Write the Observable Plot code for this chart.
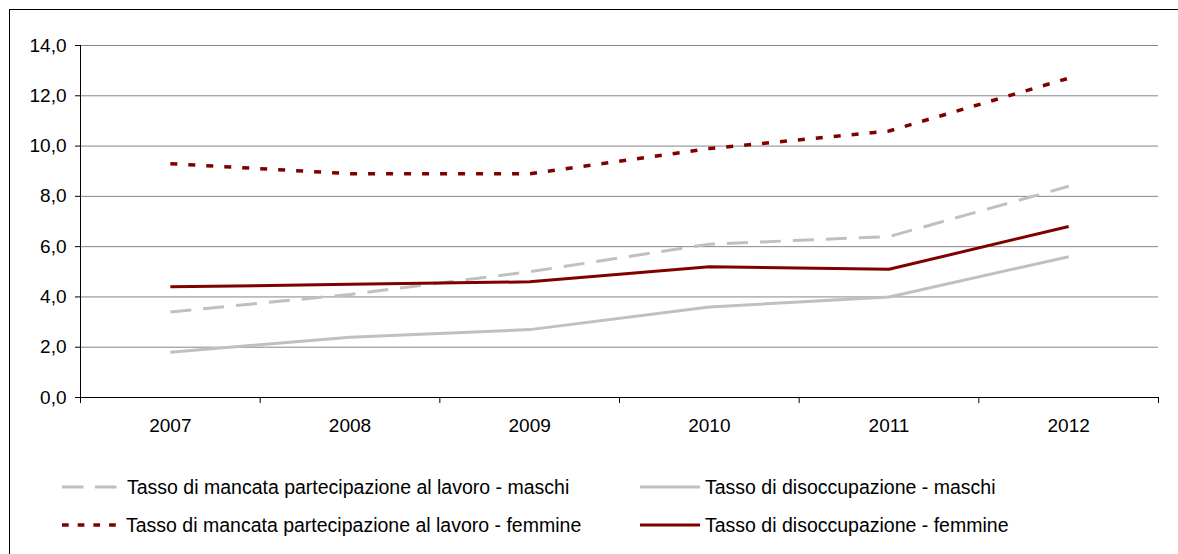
<!DOCTYPE html>
<html><head><meta charset="utf-8">
<script src="https://cdn.jsdelivr.net/npm/d3@7"></script>
<script src="https://cdn.jsdelivr.net/npm/@observablehq/plot@0.6"></script>
<style>html,body{margin:0;padding:0;background:#fff;overflow:hidden}</style>
</head><body><div id="chart"></div>
<script>
const years = [2007, 2008, 2009, 2010, 2011, 2012];
const mancataMaschi  = [3.4, 4.1, 5.0, 6.1, 6.4, 8.4];
const disoccMaschi   = [1.8, 2.4, 2.7, 3.6, 4.0, 5.6];
const mancataFemmine = [9.3, 8.9, 8.9, 9.9, 10.6, 12.7];
const disoccFemmine  = [4.4, 4.5, 4.6, 5.2, 5.1, 6.8];
const seriesNames = [
  "Tasso di mancata partecipazione al lavoro - maschi",
  "Tasso di disoccupazione - maschi",
  "Tasso di mancata partecipazione al lavoro - femmine",
  "Tasso di disoccupazione - femmine"
];
const yTicks = [0, 2, 4, 6, 8, 10, 12, 14];

const seriesValues = [mancataMaschi, disoccMaschi, mancataFemmine, disoccFemmine];
const seriesStyle = [
  {stroke: "#c0c0c0", width: 3, dash: "21,12", legendDash: "21.5,11.5"},
  {stroke: "#c0c0c0", width: 3, dash: null, legendDash: null},
  {stroke: "#800000", width: 3.5, dash: "7,11", legendDash: "6.7,9"},
  {stroke: "#800000", width: 3, dash: null, legendDash: null}
];

const rows = [];
seriesNames.forEach((name, s) => years.forEach((yr, i) => rows.push({series: name, year: yr, value: seriesValues[s][i]})));

const boundaries = years.map(y => y - 0.5).concat([years[years.length - 1] + 0.5]);
const fmt = d => d.toFixed(1).replace(".", ",");

const lineMarks = seriesNames.map((name, s) => Plot.line(rows.filter(r => r.series === name), {
  x: "year", y: "value",
  stroke: seriesStyle[s].stroke,
  strokeWidth: seriesStyle[s].width,
  strokeDasharray: seriesStyle[s].dash || undefined,
  strokeLinejoin: "miter",
  strokeLinecap: "butt"
}));

const chart = Plot.plot({
  width: 1178,
  height: 554,
  marginTop: 45,
  marginBottom: 157,
  marginLeft: 80,
  marginRight: 20,
  style: {fontFamily: "'Liberation Sans', Arial, sans-serif", fontSize: "19px", color: "#000", background: "#fff", overflow: "hidden"},
  x: {domain: [boundaries[0], boundaries[boundaries.length - 1]], axis: null, label: null},
  y: {domain: [0, 14], axis: null, label: null},
  marks: [
    Plot.ruleY(yTicks.filter(d => d > 0), {stroke: "#868686", strokeWidth: 1}),
    Plot.axisY(yTicks, {tickSize: 5, tickPadding: 9, tickFormat: fmt, stroke: "#000", fill: "#000", label: null}),
    Plot.axisX(boundaries, {tickSize: 6, tickPadding: 0, tickFormat: () => "", stroke: "#000", label: null}),
    Plot.axisX(years, {tickSize: 0, tickPadding: 21, tickFormat: d => String(d), fill: "#000", label: null}),
    Plot.ruleX([boundaries[0]], {stroke: "#000"}),
    Plot.ruleY([0], {stroke: "#000"}),
    ...lineMarks
  ]
});

const svg = d3.select(chart);
svg.append("rect").attr("x", 9.5).attr("y", 9.5).attr("width", 1300).attr("height", 700)
  .attr("fill", "none").attr("stroke", "#000").attr("stroke-width", 1);

const legendPos = [
  {x1: 62, x2: 117, tx: 127, y: 487},
  {x1: 640, x2: 700, tx: 705, y: 487},
  {x1: 62, x2: 122, tx: 126, y: 525},
  {x1: 640, x2: 700, tx: 705, y: 525}
];
const lg = svg.append("g")
  .attr("font-family", "'Liberation Sans', Arial, sans-serif")
  .attr("font-size", "19.5px")
  .attr("text-anchor", "start");
seriesNames.forEach((name, s) => {
  const p = legendPos[s];
  const ln = lg.append("line").attr("x1", p.x1).attr("x2", p.x2).attr("y1", p.y).attr("y2", p.y)
    .attr("stroke", seriesStyle[s].stroke).attr("stroke-width", seriesStyle[s].width);
  if (seriesStyle[s].legendDash) ln.attr("stroke-dasharray", seriesStyle[s].legendDash);
  lg.append("text").attr("x", p.tx).attr("y", p.y).attr("dy", "0.35em").attr("fill", "#000")
    .attr("text-anchor", "start").text(name);
});

document.getElementById("chart").appendChild(chart);
</script>
</body></html>
